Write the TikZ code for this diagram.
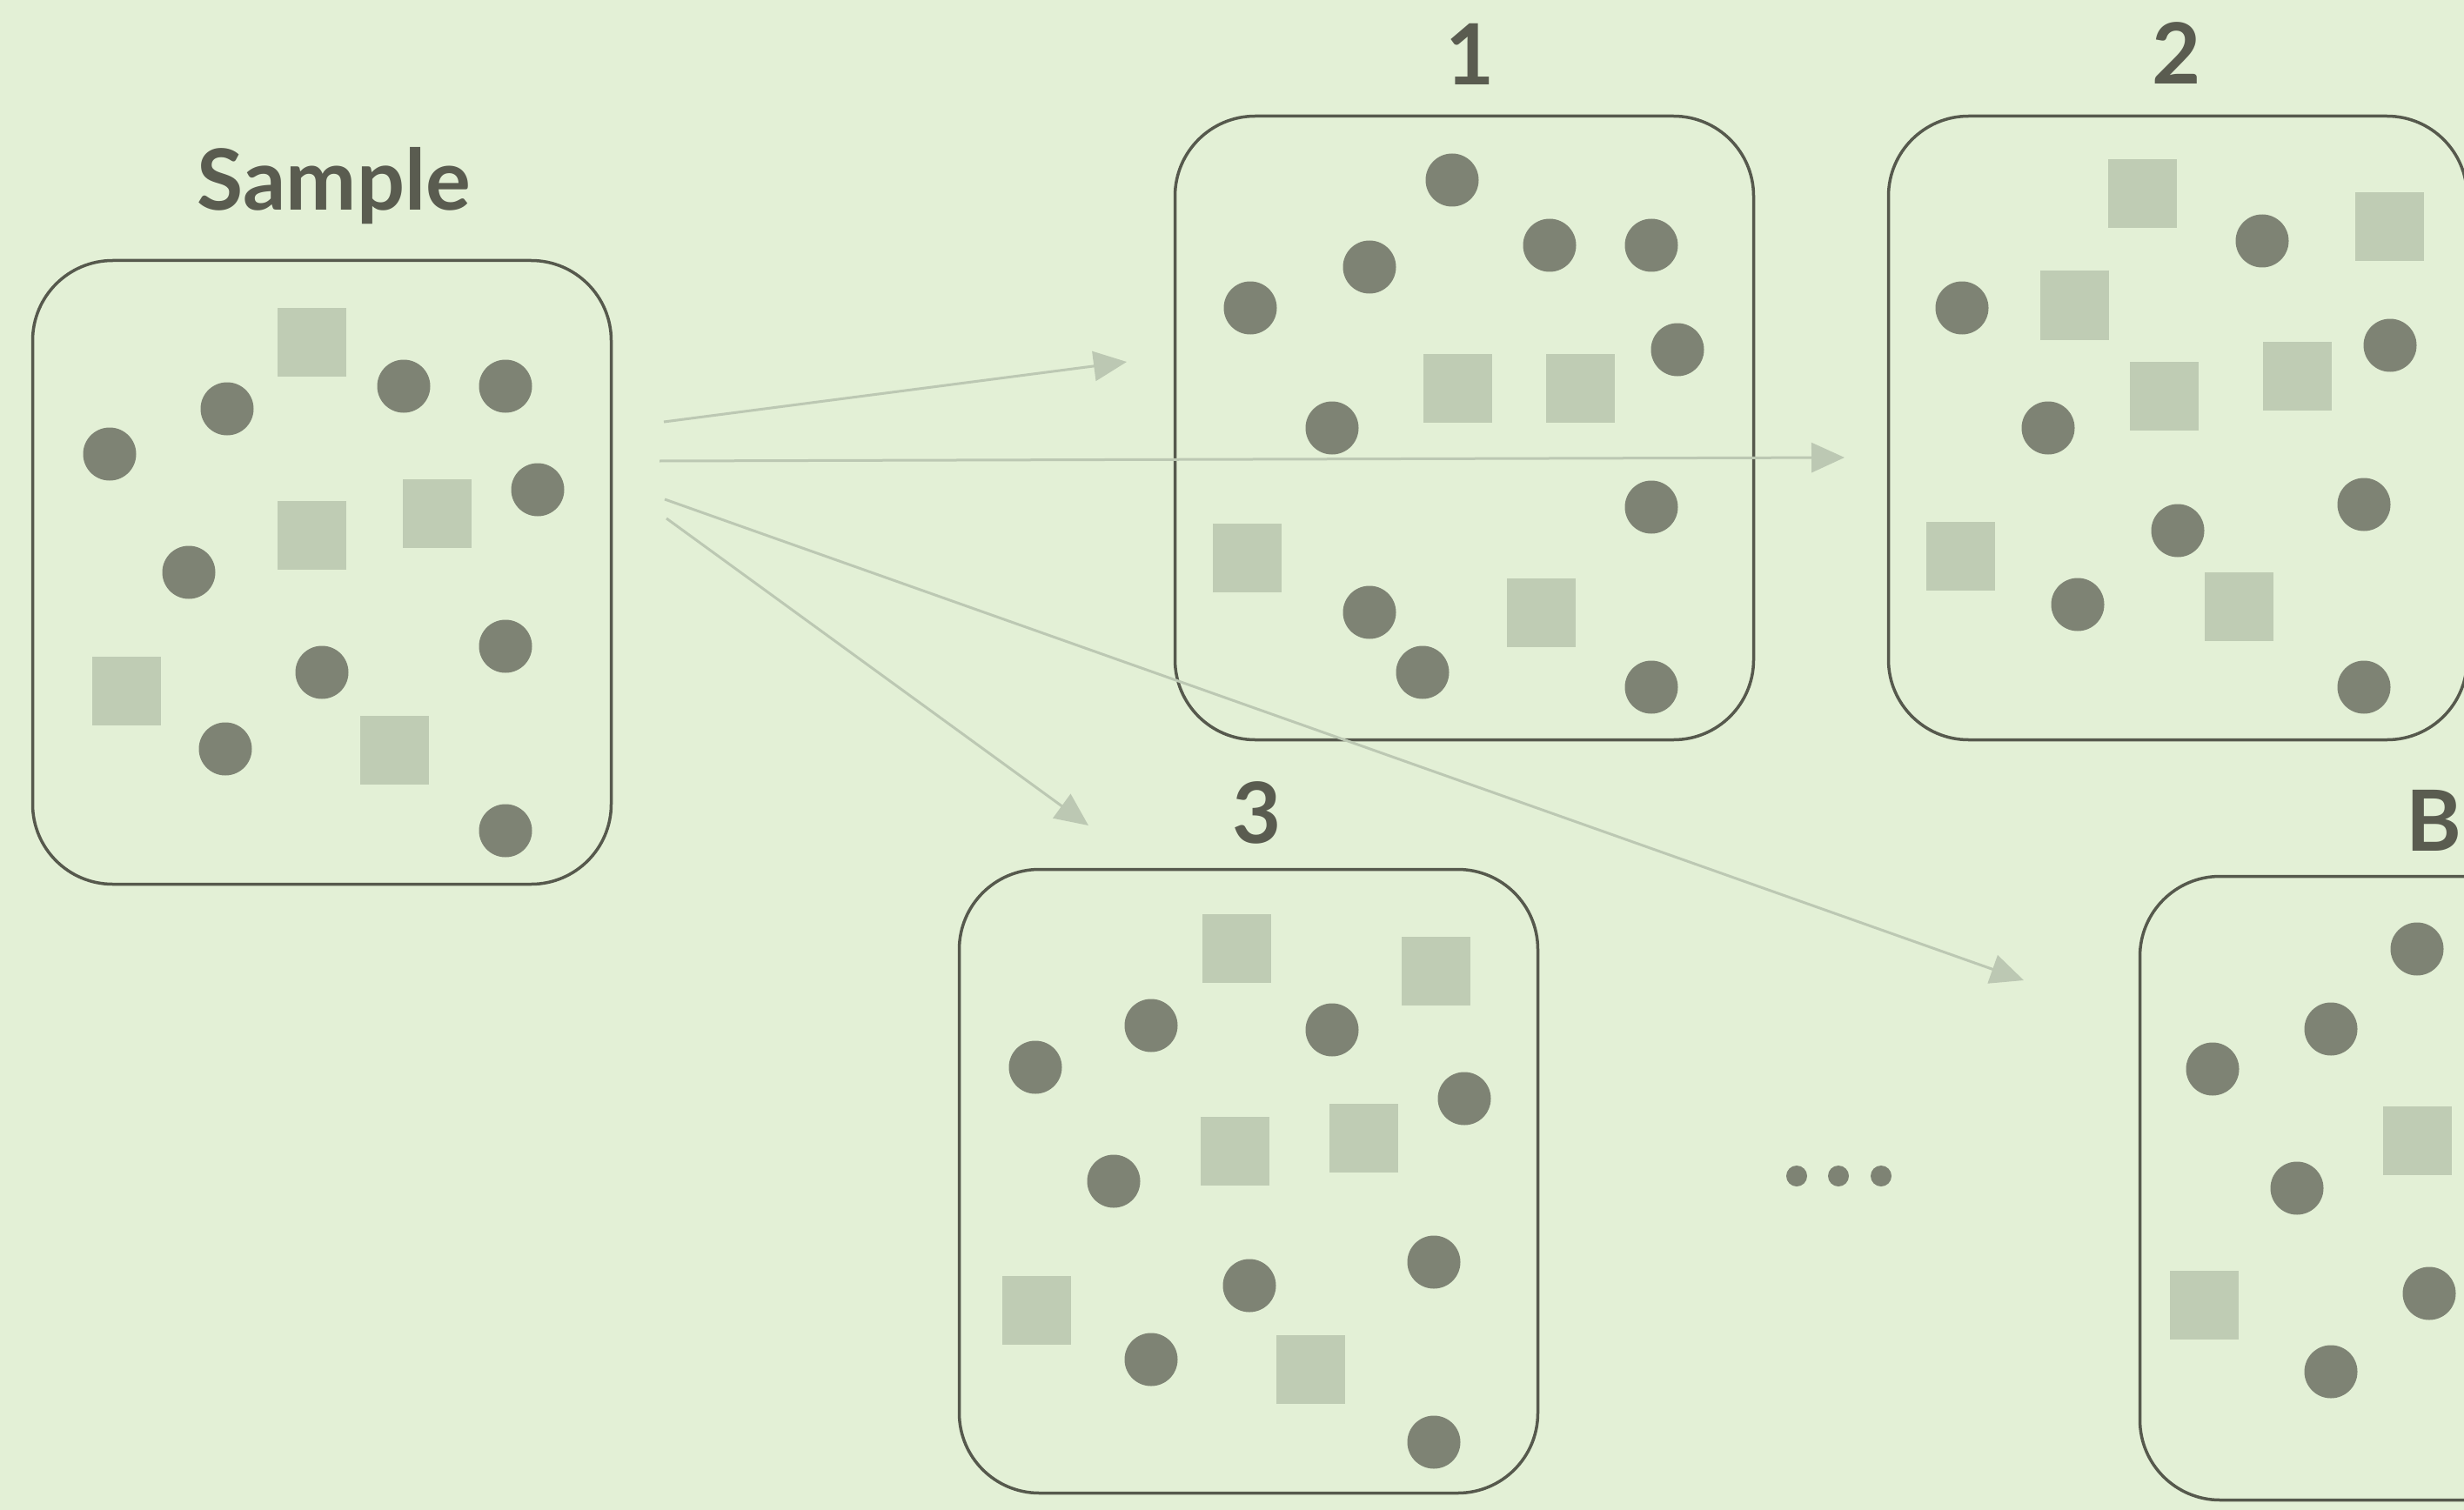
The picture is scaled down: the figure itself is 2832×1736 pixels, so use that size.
\documentclass[tikz,border=0pt]{standalone}
\usepackage{fontspec}
\setmainfont{Lato}
\usetikzlibrary{arrows.meta}
\definecolor{paper}{HTML}{E3F0D6}
\definecolor{frame}{HTML}{56594D}
\definecolor{ink}{HTML}{5A5C50}
\definecolor{dotfill}{HTML}{7E8374}
\definecolor{tilefill}{HTML}{BFCCB4}
\definecolor{flow}{HTML}{BCC8B3}
\tikzset{
  bag/.style={draw=frame, line width=3.5pt, rounded corners=92pt,
    minimum width=665pt, minimum height=717pt, inner sep=0pt},
  title/.style={text=ink, font=\bfseries\fontsize{97}{97}\selectfont, anchor=base, inner sep=0pt},
  dot/.style={fill=dotfill},
  tile/.style={fill=tilefill},
  flowarrow/.style={draw=flow, line width=3pt, -{Triangle[length=38pt,width=34pt]}}
}
\newcommand{\putdots}[1]{\foreach \x/\y in {#1} {\fill[dot] (\x,\y) circle[radius=30.5];}}
\newcommand{\puttiles}[1]{\foreach \x/\y in {#1} {\fill[tile] (\x-39.5,\y-39.5) rectangle (\x+39.5,\y+39.5);}}
\begin{document}
\begin{tikzpicture}[x=1pt,y=-1pt]
\fill[paper] (0,0) rectangle (2832,1736);
\useasboundingbox (0,0) rectangle (2832,1736);

% containers
\node[bag] (sample) at (370,658) {};
\node[bag] (b1) at (1683,492) {};
\node[bag] (b2) at (2503,492) {};
\node[bag] (b3) at (1435,1358) {};
\node[bag] (bB) at (2792,1366) {};

% titles
\node[title] (tS) at (384,242) {Sample};
\node[title] (t1) at (1690,98) {1};
\node[title] (t2) at (2502,97) {2};
\node[title] (t3) at (1445,969) {3};
\node[title] (tB) at (2797,978) {B};

% sample contents
\puttiles{358/393,358/615,502/590,145/794,453/862}
\putdots{126/522,261/470,464/444,581/444,618/563,217/658,370/773,581/743,259/861,581/955}

% resample 1
\puttiles{1675/446,1816/446,1433/641,1771/704}
\putdots{1669/207,1574/307,1437/354,1781/282,1898/282,1928/402,1531/492,1898/583,1574/704,1635/773,1898/790}

% resample 2
\puttiles{2462/223,2746/261,2384/351,2487/455,2640/432,2253/639,2573/697}
\putdots{2600/277,2255/354,2747/397,2354/492,2503/610,2717/580,2388/695,2717/790}

% resample 3
\puttiles{1421/1090,1650/1116,1419/1323,1567/1308,1191/1506,1506/1574}
\putdots{1323/1179,1190/1227,1531/1184,1683/1263,1280/1358,1436/1478,1648/1451,1323/1563,1648/1658}

% resample B
\puttiles{2778/1311,2533/1500}
\putdots{2778/1091,2679/1183,2543/1229,2640/1366,2792/1487,2679/1577}

% ellipsis between 3 and B
\foreach \x in {2065,2113,2162} {\fill[dot] (\x,1352) circle[radius=12];}

% arrow ends
\coordinate (o1) at (763,485);
\coordinate (o2) at (758,530);
\coordinate (o3) at (764,574);
\coordinate (o4) at (766,596);
\coordinate (e1) at (1295,416);
\coordinate (e2) at (2120,526);
\coordinate (eB) at (2326,1127);
\coordinate (e3) at (1251,949);

\draw[flowarrow] (o1) -- (e1);
\draw[flowarrow] (o2) -- (e2);
\draw[flowarrow] (o3) -- (eB);
\draw[flowarrow] (o4) -- (e3);
\end{tikzpicture}
\end{document}
